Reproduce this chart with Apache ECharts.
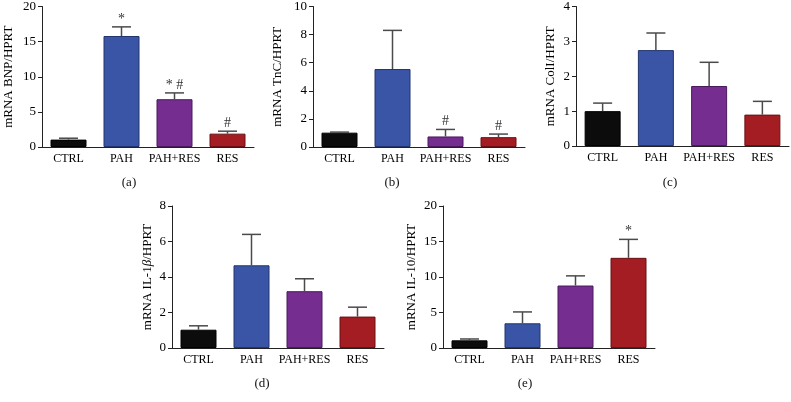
<!DOCTYPE html>
<html><head><meta charset="utf-8">
<script src="https://cdn.jsdelivr.net/npm/echarts@6/dist/echarts.min.js"></script>
<style>html,body{margin:0;padding:0;background:#fff}#c{width:791px;height:402px}</style>
</head><body><div id="c"></div>
<script>
const categories = ['CTRL', 'PAH', 'PAH+RES', 'RES'];
const barColors = ['#0c0c0c', '#3a55a5', '#752d8f', '#a31d22'];
const borderColors = ['#000000', '#23356e', '#4b1a5d', '#6b1014'];

const bnpMean = [1.05, 15.8, 6.8, 1.9];
const bnpErr  = [1.25, 17.1, 7.7, 2.25];
const bnpSig  = ['', '*', '* #', '#'];

const tncMean = [1.02, 5.55, 0.75, 0.7];
const tncErr  = [1.06, 8.3, 1.25, 0.92];
const tncSig  = ['', '', '#', '#'];

const colMean = [1.0, 2.75, 1.72, 0.9];
const colErr  = [1.23, 3.24, 2.4, 1.28];
const colSig  = ['', '', '', ''];

const il1bMean = [1.03, 4.66, 3.2, 1.77];
const il1bErr  = [1.25, 6.4, 3.9, 2.3];
const il1bSig  = ['', '', '', ''];

const il10Mean = [1.08, 3.48, 8.8, 12.7];
const il10Err  = [1.27, 5.08, 10.16, 15.3];
const il10Sig  = ['', '', '', '*'];

const panels = [
  {name: 'mRNA BNP/HPRT', mean: bnpMean, err: bnpErr, sig: bnpSig, max: 20, interval: 5, label: '(a)',
   grid: {left: 42, width: 212, top: 5, height: 142}, gap: 27, lx: 124, ly: 182},
  {name: 'mRNA TnC/HPRT', mean: tncMean, err: tncErr, sig: tncSig, max: 10, interval: 2, label: '(b)',
   grid: {left: 313, width: 212, top: 5, height: 142}, gap: 29, lx: 387, ly: 182},
  {name: 'mRNA ColI/HPRT', mean: colMean, err: colErr, sig: colSig, max: 4, interval: 1, label: '(c)',
   grid: {left: 576, width: 213, top: 5, height: 141}, gap: 19, lx: 665, ly: 182},
  {name: 'mRNA IL-1{i|β}/HPRT', mean: il1bMean, err: il1bErr, sig: il1bSig, max: 8, interval: 2, label: '(d)',
   grid: {left: 172, width: 212, top: 206, height: 142}, gap: 18, lx: 257, ly: 383},
  {name: 'mRNA IL-10/HPRT', mean: il10Mean, err: il10Err, sig: il10Sig, max: 20, interval: 5, label: '(e)',
   grid: {left: 443, width: 212, top: 206, height: 142}, gap: 25, lx: 520, ly: 383}
];

const FONT = 'Liberation Serif';
const option = {
  animation: false,
  backgroundColor: '#fff',
  grid: panels.map(p => Object.assign({containLabel: false}, p.grid)),
  title: panels.map(p => ({
    text: p.label, left: p.lx, top: p.ly - 11, textAlign: 'center',
    textStyle: {fontFamily: FONT, fontSize: 13, fontWeight: 'normal', color: '#111'}
  })),
  xAxis: panels.map((p, i) => ({
    type: 'category', gridIndex: i, data: categories,
    axisLine: {lineStyle: {color: '#222', width: 1}},
    axisTick: {show: false},
    axisLabel: {fontFamily: FONT, fontSize: 12, color: '#000', margin: 6, interval: 0}
  })),
  yAxis: panels.map((p, i) => ({
    type: 'value', gridIndex: i, min: 0, max: p.max, interval: p.interval,
    name: p.name, nameLocation: 'middle', nameGap: p.gap, nameRotate: 90,
    nameTextStyle: {fontFamily: FONT, fontSize: 13, color: '#000',
      rich: {i: {fontFamily: FONT, fontSize: 13, fontStyle: 'italic', color: '#000'}}},
    splitLine: {show: false},
    axisLine: {show: true, lineStyle: {color: '#222', width: 1}},
    axisTick: {show: true, length: 4, lineStyle: {color: '#222'}},
    axisLabel: {fontFamily: FONT, fontSize: 13, color: '#000', margin: 6}
  })),
  series: []
};

panels.forEach((p, i) => {
  option.series.push({
    type: 'bar', xAxisIndex: i, yAxisIndex: i, barWidth: 36,
    data: p.mean.map((v, k) => ({value: v, itemStyle: {color: barColors[k], borderColor: borderColors[k], borderWidth: 1}})),
    z: 2
  });
  option.series.push({
    type: 'custom', xAxisIndex: i, yAxisIndex: i, z: 3,
    data: p.mean.map((v, k) => [k, v, p.err[k], p.sig[k]]),
    renderItem: function (params, api) {
      const k = api.value(0);
      const a = api.coord([k, api.value(1)]);
      const b = api.coord([k, api.value(2)]);
      const s = p.sig[k];
      const hw = 9.5;
      const children = [
        {type: 'line', shape: {x1: a[0], y1: a[1], x2: b[0], y2: b[1]}, style: {stroke: '#4a4a4a', lineWidth: 1.5}},
        {type: 'line', shape: {x1: b[0] - hw, y1: b[1], x2: b[0] + hw, y2: b[1]}, style: {stroke: '#4a4a4a', lineWidth: 1.5}}
      ];
      if (s) {
        children.push({type: 'text', x: b[0], y: b[1] - 1,
          style: {text: s, textAlign: 'center', textVerticalAlign: 'bottom', font: '14px "Liberation Serif"', fill: '#333'}});
      }
      return {type: 'group', children: children};
    }
  });
});

const chart = echarts.init(document.getElementById('c'), null, {renderer: 'canvas'});
chart.setOption(option);
</script>
</body></html>
